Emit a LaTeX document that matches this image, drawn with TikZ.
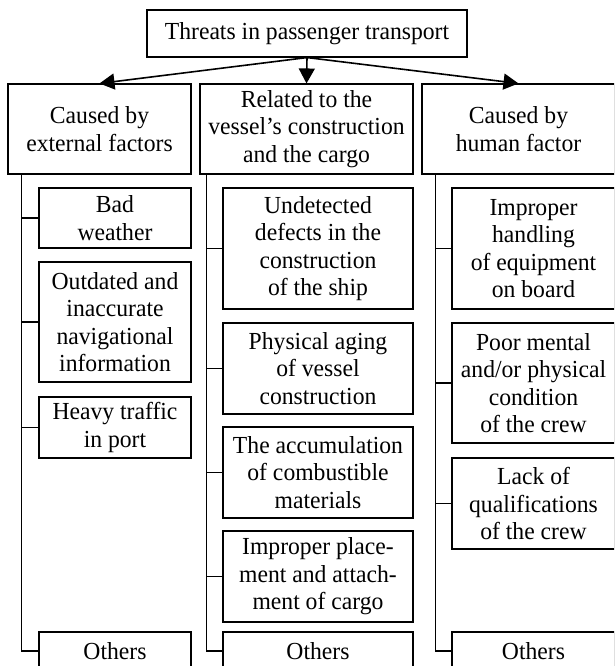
\documentclass[tikz,border=0pt]{standalone}
\usepackage{fontspec}
\setmainfont[FakeStretch=0.965]{Liberation Serif}
\usetikzlibrary{arrows.meta}
\begin{document}
\begin{tikzpicture}[x=1pt,y=-1pt,
  box/.style={draw, line width=1.1pt, inner sep=0pt, align=center,
    font=\fontsize{24.5}{27.5}\selectfont},
  link/.style={line width=1.6pt},
  arr/.style={line width=1.6pt, -{Triangle[length=15pt,width=16pt]}}]
\useasboundingbox (0,0) rectangle (614,666);
\clip (0,0) rectangle (614,666);

% top
\node[box, minimum width=320pt, minimum height=47pt] (top) at (307,33.5) {Threats in passenger transport};

% headers
\node[box, minimum width=183pt, minimum height=90pt] (H1) at (99.5,129) {Caused by\\external factors};
\node[box, minimum width=213pt, minimum height=90pt] (H2) at (306.5,129) {Related to the\\vessel's construction\\and the cargo};
\node[box, minimum width=193pt, minimum height=90pt] (H3) at (518.5,129) {Caused by\\human factor};

\draw[arr] (top.south) -- (H1.north);
\draw[arr] (top.south) -- (H2.north);
\draw[arr] (top.south) -- (H3.north);

% left column
\tikzset{lb/.style={box, minimum width=152pt}}
\node[lb, minimum height=60pt] (L1) at (115,218) {Bad\\weather};
\node[lb, minimum height=120pt] (L2) at (115,322) {Outdated and\\inaccurate\\navigational\\information};
\node[lb, minimum height=61pt] (L3) at (115,427.5) {Heavy traffic\\in port};
\node[lb, minimum height=38pt] (L4) at (115,651) {Others};

% middle column
\tikzset{mb/.style={box, minimum width=190pt}}
\node[mb, minimum height=121pt] (M1) at (318,248.5) {Undetected\\defects in the\\construction\\of the ship};
\node[mb, minimum height=91pt] (M2) at (318,368.5) {Physical aging\\of vessel\\construction};
\node[mb, minimum height=91pt] (M3) at (318,472.5) {The accumulation\\of combustible\\materials};
\node[mb, minimum height=91pt] (M4) at (318,576.5) {Improper place-\\ment and attach-\\ment of cargo};
\node[mb, minimum height=38pt] (M5) at (318,651) {Others};

% right column
\tikzset{rb/.style={box, minimum width=163pt}}
\node[rb, minimum height=121pt] (R1) at (533.5,248.5) {Improper\\handling\\of equipment\\on board};
\node[rb, minimum height=120pt] (R2) at (533.5,383) {Poor mental\\and/or physical\\condition\\of the crew};
\node[rb, minimum height=91pt] (R3) at (533.5,503.5) {Lack of\\qualifications\\of the crew};
\node[rb, minimum height=38pt] (R4) at (533.5,651) {Others};

% trunks
\coordinate (t1) at ([xshift=14pt]H1.south west);
\coordinate (t2) at ([xshift=7pt]H2.south west);
\coordinate (t3) at ([xshift=14pt]H3.south west);

\draw[link] (t1) |- (L4.west);
\foreach \n in {L1,L2,L3} \draw[link] (\n.west) -- (\n.west -| t1);

\draw[link] (t2) |- (M5.west);
\foreach \n in {M1,M2,M3,M4} \draw[link] (\n.west) -- (\n.west -| t2);

\draw[link] (t3) |- (R4.west);
\foreach \n in {R1,R2,R3} \draw[link] (\n.west) -- (\n.west -| t3);
\end{tikzpicture}
\end{document}
